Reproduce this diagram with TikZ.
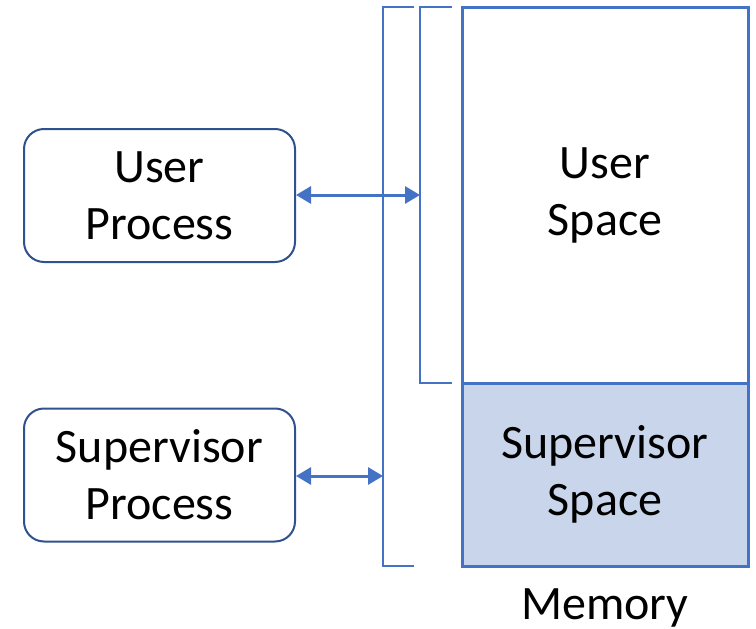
\documentclass[tikz,border=0pt]{standalone}
\usepackage{fontspec}
\setmainfont{Carlito}
\usetikzlibrary{arrows.meta}
\definecolor{boxline}{HTML}{2F528F}
\definecolor{accent}{HTML}{4472C4}
\definecolor{supfill}{HTML}{C9D5EB}
\tikzset{
  bigtext/.style={font=\fontsize{48}{57}\selectfont},
  procbox/.style={draw=boxline, line width=2pt, rounded corners=20pt, fill=white,
    minimum width=271pt, minimum height=133pt, align=center, inner sep=0pt, bigtext},
  membox/.style={draw=accent, line width=3pt, minimum width=286pt, inner sep=0pt,
    align=center, bigtext},
  brace/.style={draw=accent, line width=1.3pt},
  link/.style={draw=accent, line width=3pt, {Triangle[length=15pt,width=17pt]}-{Triangle[length=15pt,width=17pt]}}
}
\begin{document}
\begin{tikzpicture}[x=1pt,y=-1pt]
\useasboundingbox (0,0) rectangle (756,629);
% processes
\node[procbox] (up) at (159.5,195.5) {User\\Process};
\node[procbox] (sp) at (159.5,475) {Supervisor\\Process};
% memory
\node[membox, minimum height=376pt] (us) at (605,195) {User\\Space};
\node[membox, minimum height=183pt, fill=supfill] (ss) at (605,474.5) {Supervisor\\Space};
\node[bigtext] (mem) at (605,608) {Memory};
% brackets
\coordinate (ot) at (383,7);
\coordinate (ob) at (383,566);
\coordinate (it) at (420,7);
\coordinate (ib) at (420,383);
\draw[brace] ([xshift=31pt]ot) -- (ot) -- (ob) -- ([xshift=31pt]ob);
\draw[brace] ([xshift=32pt]it) -- (it) -- (ib) -- ([xshift=32pt]ib);
% access arrows
\coordinate (ua) at (420,195);
\coordinate (sa) at (383,476);
\draw[link] (up.east |- ua) -- (ua);
\draw[link] (sp.east |- sa) -- (sa);
\end{tikzpicture}
\end{document}
